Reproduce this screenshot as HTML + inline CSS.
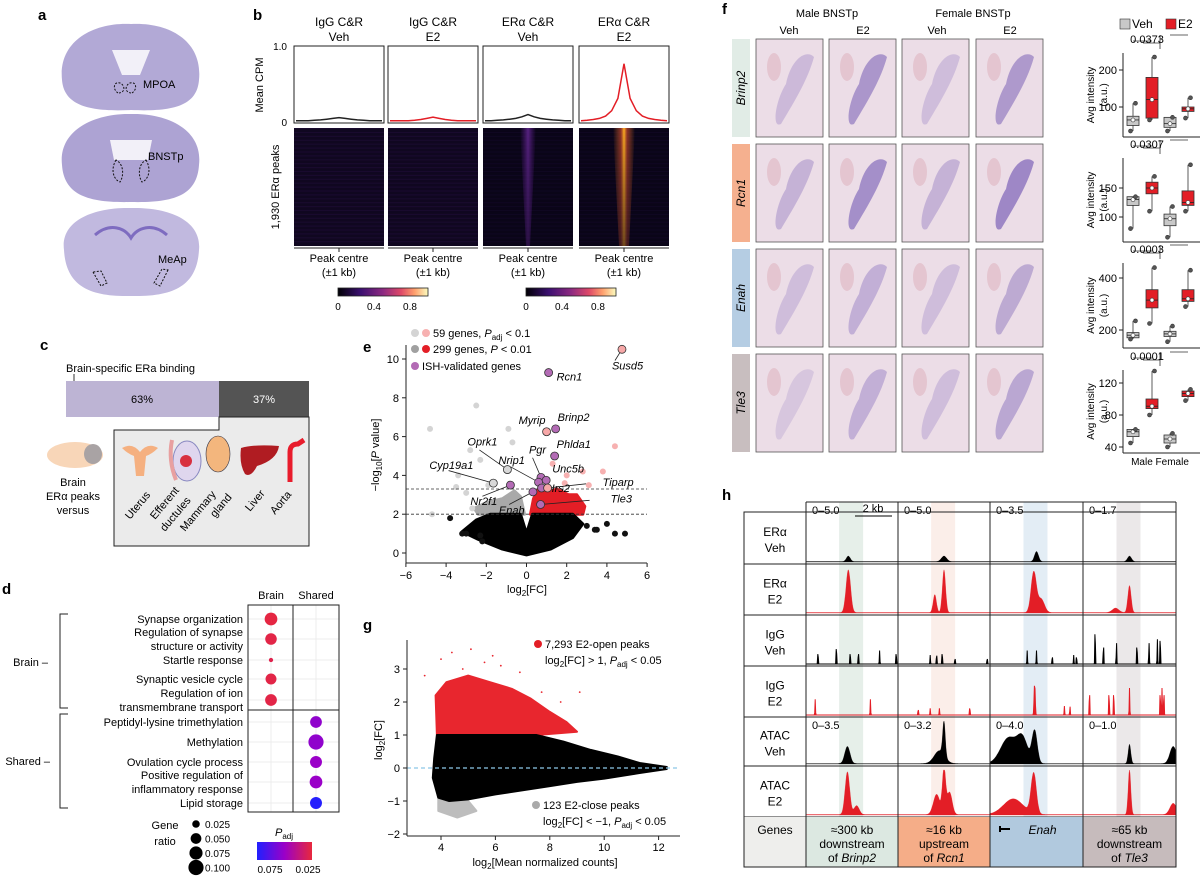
<!DOCTYPE html>
<html><head><meta charset="utf-8"><style>
html,body{margin:0;padding:0;background:#fff}
svg{display:block;font-family:"Liberation Sans",Arial,sans-serif}
</style></head><body>
<svg id="fig" width="1200" height="877" viewBox="0 0 1200 877" xmlns="http://www.w3.org/2000/svg">
<defs>
<linearGradient id="magma" x1="0" x2="1" y1="0" y2="0"><stop offset="0" stop-color="#000004"/><stop offset="0.25" stop-color="#3b0f70"/><stop offset="0.5" stop-color="#8c2981"/><stop offset="0.7" stop-color="#de4968"/><stop offset="0.85" stop-color="#fe9f6d"/><stop offset="1" stop-color="#fcfdbf"/></linearGradient>
<linearGradient id="padj" x1="0" x2="1"><stop offset="0" stop-color="#2020ff"/><stop offset="0.5" stop-color="#9a00c8"/><stop offset="1" stop-color="#e8283c"/></linearGradient>
<linearGradient id="stripeE2" x1="0" x2="1"><stop offset="0" stop-color="#f08020" stop-opacity="0"/><stop offset="0.35" stop-color="#e05030" stop-opacity="0.6"/><stop offset="0.5" stop-color="#ffb020"/><stop offset="0.65" stop-color="#e05030" stop-opacity="0.6"/><stop offset="1" stop-color="#f08020" stop-opacity="0"/></linearGradient>
<linearGradient id="stripeV" x1="0" x2="1"><stop offset="0" stop-color="#5a1a8a" stop-opacity="0"/><stop offset="0.5" stop-color="#6a2a9a" stop-opacity="0.8"/><stop offset="1" stop-color="#5a1a8a" stop-opacity="0"/></linearGradient>
<linearGradient id="fadeDown" x1="0" x2="0" y1="0" y2="1"><stop offset="0" stop-color="#fff" stop-opacity="1"/><stop offset="1" stop-color="#fff" stop-opacity="0.45"/></linearGradient>
<mask id="fadeMask"><rect x="0" y="128" width="1200" height="118" fill="url(#fadeDown)"/></mask>
</defs>

<!-- panel a -->
<g>
<text x="38" y="20" font-size="15" font-weight="bold">a</text>
<g>
<path d="M62,80 C58,40 95,22 131,24 C168,22 203,40 199,80 C197,105 175,112 131,110 C88,112 64,105 62,80Z" fill="#b2a9d6"/>
<path d="M112,50 L150,50 L140,75 L122,75Z" fill="#f2f0f8"/>
<path d="M118,93 c-6,-4 -4,-12 2,-10 c5,2 6,10 -2,10Z M132,93 c6,-4 4,-12 -2,-10 c-5,2 -6,10 2,10Z" fill="none" stroke="#111" stroke-dasharray="2,1.5"/>
<text x="143" y="88" font-size="11">MPOA</text></g>
<g>
<path d="M62,165 C58,130 95,113 131,114 C168,113 203,130 199,165 C197,195 175,203 131,202 C88,203 64,195 62,165Z" fill="#ada3d3"/>
<path d="M110,140 L152,140 L148,160 L114,160Z" fill="#f2f0f8"/>
<path d="M116,160 c-6,10 -2,20 4,22 c4,-6 4,-18 -4,-22Z M146,160 c6,10 2,20 -4,22 c-4,-6 -4,-18 4,-22Z" fill="none" stroke="#111" stroke-dasharray="2,1.5"/>
<text x="148" y="160" font-size="11">BNSTp</text></g>
<g>
<path d="M64,250 C60,220 95,207 131,208 C168,207 202,220 199,250 C197,285 175,297 131,296 C88,297 66,285 64,250Z" fill="#c1b9df"/>
<path d="M95,235 C110,222 125,228 131,238 C137,228 152,222 167,235" fill="none" stroke="#7e6cc0" stroke-width="3"/>
<path d="M93,272 l8,14 l6,-3 l-6,-12Z M168,270 l-8,16 l-6,-3 l8,-14Z" fill="none" stroke="#111" stroke-dasharray="2,1.5"/>
<text x="158" y="263" font-size="11">MeAp</text></g>
</g>

<!-- panel b -->
<g id="panelB">
<text x="253" y="20" font-size="15" font-weight="bold">b</text>
<text transform="translate(263,85) rotate(-90)" text-anchor="middle" font-size="11">Mean CPM</text>
<text x="287" y="50" text-anchor="end" font-size="10">1.0</text>
<text x="287" y="126" text-anchor="end" font-size="10">0</text>
<text transform="translate(279,187) rotate(-90)" text-anchor="middle" font-size="11">1,930 ERα peaks</text>
</g>

<!-- panel c -->
<g>
<text x="40" y="350" font-size="15" font-weight="bold">c</text>
<text x="66" y="372" font-size="11">Brain-specific ERa binding</text>
<line x1="74" y1="374" x2="74" y2="381" stroke="#000" stroke-width="0.8"/>
<rect x="66" y="381" width="153" height="36" fill="#bdb4d4"/>
<rect x="219" y="381" width="90" height="36" fill="#545454"/>
<text x="142" y="403" text-anchor="middle" font-size="11">63%</text>
<text x="264" y="403" text-anchor="middle" font-size="11" fill="#fff">37%</text>
<path d="M114,430 L219,430 L219,417 L309,417 L309,546 L114,546Z" fill="#ebebeb" stroke="#222"/>
<g><ellipse cx="75" cy="455" rx="28" ry="13" fill="#f8d6b8"/><ellipse cx="93" cy="454" rx="9" ry="10" fill="#a9a3a4"/></g>
<text x="73" y="486" text-anchor="middle" font-size="11">Brain</text>
<text x="73" y="500" text-anchor="middle" font-size="11">ERα peaks</text>
<text x="73" y="514" text-anchor="middle" font-size="11">versus</text>
<g><path d="M122,448 q10,-6 18,4 q8,-10 18,-4 q-6,6 -12,8 l-2,20 h-8 l-2,-20 q-6,-2 -12,-8Z" fill="#f5b080"/></g>
<g><ellipse cx="187" cy="461" rx="14" ry="20" fill="#dfd6ee" stroke="#8888c0"/><circle cx="186" cy="461" r="6" fill="#d83040"/><path d="M172,440 q-4,20 4,40" stroke="#e8a0a0" stroke-width="4" fill="none"/></g>
<g><ellipse cx="218" cy="454" rx="12" ry="18" fill="#f3b67d" stroke="#334" stroke-width="0.6"/></g>
<g><path d="M241,448 q14,-4 38,-2 q-2,14 -22,20 q-6,12 -12,8 q-6,-10 -4,-26Z" fill="#b01c22"/></g>
<g><path d="M290,482 l0,-30 q0,-8 8,-8 l6,-4" stroke="#e81c2c" stroke-width="5" fill="none"/></g>
<g font-size="11">
<text transform="translate(130,520) rotate(-50)">Uterus</text>
<text transform="translate(155,520) rotate(-50)">Efferent</text>
<text transform="translate(165,532) rotate(-50)">ductules</text>
<text transform="translate(185,532) rotate(-50)">Mammary</text>
<text transform="translate(215,518) rotate(-50)">gland</text>
<text transform="translate(250,512) rotate(-50)">Liver</text>
<text transform="translate(275,515) rotate(-50)">Aorta</text>
</g>
</g>

<!-- panel d -->
<g id="panelD">
<text x="2" y="594" font-size="15" font-weight="bold">d</text>
<text x="271" y="599" text-anchor="middle" font-size="11">Brain</text>
<text x="316" y="599" text-anchor="middle" font-size="11">Shared</text>
<path d="M68,614 h-8 v94 h8" fill="none" stroke="#222"/>
<path d="M68,714 h-8 v94 h8" fill="none" stroke="#222"/>
<text x="48" y="666" text-anchor="end" font-size="11">Brain –</text>
<text x="50" y="765" text-anchor="end" font-size="11">Shared –</text>
<text x="165" y="829" text-anchor="middle" font-size="11">Gene</text>
<text x="165" y="845" text-anchor="middle" font-size="11">ratio</text>
<text x="284" y="836" text-anchor="middle" font-size="11" font-style="italic">P<tspan font-size="8" font-style="normal" dy="3">adj</tspan></text>
<rect x="257" y="842" width="55" height="18" fill="url(#padj)"/>
<text x="270" y="873" text-anchor="middle" font-size="10">0.075</text>
<text x="308" y="873" text-anchor="middle" font-size="10">0.025</text>
</g>

<!-- panel e -->
<g id="panelE">
<text x="363" y="352" font-size="15" font-weight="bold">e</text>
</g>

<!-- panel g -->
<g id="panelG">
<text x="363" y="630" font-size="15" font-weight="bold">g</text>
</g>

<!-- panel f -->
<g id="panelF">
<text x="722" y="14" font-size="15" font-weight="bold">f</text>
<text x="827" y="17" text-anchor="middle" font-size="11">Male BNSTp</text>
<text x="973" y="17" text-anchor="middle" font-size="11">Female BNSTp</text>
<text x="789" y="34" text-anchor="middle" font-size="11">Veh</text>
<text x="863" y="34" text-anchor="middle" font-size="11">E2</text>
<text x="937" y="34" text-anchor="middle" font-size="11">Veh</text>
<text x="1010" y="34" text-anchor="middle" font-size="11">E2</text>
<rect x="1120" y="19" width="10" height="10" fill="#c8c8c8" stroke="#333" stroke-width="0.6"/>
<text x="1132" y="28" font-size="12">Veh</text>
<rect x="1166" y="19" width="10" height="10" fill="#e31e26" stroke="#333" stroke-width="0.6"/>
<text x="1178" y="28" font-size="12">E2</text>
<text x="1160" y="465" text-anchor="middle" font-size="10">Male Female</text>
</g>

<!-- panel h -->
<g id="panelH">
<text x="722" y="500" font-size="15" font-weight="bold">h</text>
</g>
</svg>
<script>
var NS='http://www.w3.org/2000/svg';
function el(tag,attrs,parent){var e=document.createElementNS(NS,tag);for(var k in attrs)e.setAttribute(k,attrs[k]);(parent||document.getElementById('fig')).appendChild(e);return e;}
function txt(s,attrs,parent){var t=el('text',attrs,parent);t.textContent=s;return t;}

/* ===== panel b data ===== */
var bTitles1=['IgG C&R','IgG C&R','ERα C&R','ERα C&R'];
var bTitles2=['Veh','E2','Veh','E2'];
var profIgGVeh=[0.03,0.03,0.03,0.035,0.04,0.05,0.06,0.07,0.06,0.05,0.04,0.035,0.03,0.03,0.03];
var profIgGE2=[0.03,0.03,0.03,0.03,0.035,0.045,0.06,0.075,0.06,0.045,0.035,0.03,0.03,0.03,0.03];
var profERVeh=[0.03,0.03,0.035,0.04,0.05,0.06,0.08,0.11,0.08,0.06,0.05,0.04,0.035,0.03,0.03];
var profERE2=[0.03,0.035,0.045,0.06,0.09,0.16,0.32,0.77,0.32,0.16,0.09,0.06,0.045,0.035,0.03];
var bProfiles=[profIgGVeh,profIgGE2,profERVeh,profERE2];
var bColors=['#222','#e31e26','#222','#e31e26'];
var cbTicks=['0','0.4','0.8'];
(function(){
 var g=document.getElementById('panelB');
 var xs=[294,388,483,579], w=90;
 for(var i=0;i<4;i++){
  var x0=xs[i], cx=x0+w/2;
  var t=txt(bTitles1[i],{x:cx,y:26,'text-anchor':'middle','font-size':12},g);
  
  
  var t2=txt(bTitles2[i],{x:cx,y:41,'text-anchor':'middle','font-size':12},g);
  
  
  var box=el('rect',{x:x0,y:46,width:w,height:77,fill:'#fff',stroke:'#222','stroke-width':1},g);
  
  
  var p=bProfiles[i], d='';
  for(var j=0;j<p.length;j++){var px=x0+2+j*(w-4)/(p.length-1), py=123-p[j]*77; d+=(j?'L':'M')+px.toFixed(1)+','+py.toFixed(1);}
  var ln=el('path',{d:d,fill:'none',stroke:bColors[i],'stroke-width':1.5},g);
  
  
  var hm=el('rect',{x:x0,y:128,width:w,height:118,fill:i<2?'#100720':'#0a0518'},g);
  
  
  for(var r=0;r<30;r++){el('rect',{x:x0,y:128+r*3.9,width:w,height:1.2,fill:'#3a1660',opacity:i<2?0.22:0.12},g);}
  var peak=p[7];
  if(peak>0.09){
   var sw=peak>0.5?16:10;
   var st=el('polygon',{points:(cx-sw/2-3)+',128 '+(cx+sw/2+3)+',128 '+(cx+sw/2-3)+',246 '+(cx-sw/2+3)+',246',fill:peak>0.5?'url(#stripeE2)':'url(#stripeV)',mask:'url(#fadeMask)'},g);
   
   
  }
  el('line',{x1:x0,y1:248,x2:x0+w,y2:248,stroke:'#222'},g);
  el('line',{x1:cx,y1:248,x2:cx,y2:252,stroke:'#222'},g);
  var pc=txt('Peak centre',{x:cx,y:262,'text-anchor':'middle','font-size':11},g);
  
  
  var pk=txt('(±1 kb)',{x:cx,y:276,'text-anchor':'middle','font-size':11},g);
  
  
 }
 var cbx=[338,526];
 for(var c=0;c<2;c++){
  var cb=el('rect',{x:cbx[c],y:288,width:90,height:8,fill:'url(#magma)',stroke:'#222','stroke-width':0.8},g);
  
  
  for(var k=0;k<cbTicks.length;k++){
   var tx=cbx[c]+parseFloat(cbTicks[k])*90;
   var tt=txt(cbTicks[k],{x:tx,y:310,'text-anchor':'middle','font-size':10},g);
   
   
  }
 }
})();

/* ===== panel d data ===== */
var dTerms=[['Synapse organization'],['Regulation of synapse','structure or activity'],['Startle response'],['Synaptic vesicle cycle'],['Regulation of ion','transmembrane transport'],['Peptidyl-lysine trimethylation'],['Methylation'],['Ovulation cycle process'],['Positive regulation of','inflammatory response'],['Lipid storage']];
var dGroup=[0,0,0,0,0,1,1,1,1,1];
var dRatio=[0.07,0.058,0.008,0.052,0.06,0.06,0.1,0.062,0.07,0.062];
var dPadj=[0.026,0.027,0.028,0.027,0.027,0.052,0.052,0.05,0.05,0.074];
var legendRatios=[0.025,0.05,0.075,0.1];
(function(){
 var g=document.getElementById('panelD');
 var rowsY=[619,639,660,679,700,722,742,762,782,803];
 var colX=[271,316];
 var rScale=function(v){return Math.sqrt(v)*24;};
 var colorP=function(p){var t=(0.075-p)/0.05;t=Math.max(0,Math.min(1,t));
  var a=[32,32,255],b=[154,0,200],c=[232,40,60],u,v,s;
  if(t<0.5){u=a;v=b;s=t*2;}else{u=b;v=c;s=(t-0.5)*2;}
  return 'rgb('+Math.round(u[0]+(v[0]-u[0])*s)+','+Math.round(u[1]+(v[1]-u[1])*s)+','+Math.round(u[2]+(v[2]-u[2])*s)+')';};
 for(var i=0;i<rowsY.length;i++){el('line',{x1:248,y1:rowsY[i],x2:339,y2:rowsY[i],stroke:'#ececec'},g);}
 el('line',{x1:271,y1:605,x2:271,y2:812,stroke:'#ececec'},g);
 el('line',{x1:316,y1:605,x2:316,y2:812,stroke:'#ececec'},g);
 var fr=el('rect',{x:248,y:605,width:91,height:207,fill:'none',stroke:'#222'},g);
 
 
 el('line',{x1:293,y1:605,x2:293,y2:812,stroke:'#222'},g);
 el('line',{x1:248,y1:710,x2:339,y2:710,stroke:'#222'},g);
 for(var i=0;i<dTerms.length;i++){
  var lines=dTerms[i];
  for(var l=0;l<lines.length;l++){
   var yy=rowsY[i]+4+(lines.length==2?(l==0?-7:7):0);
   var t=txt(lines[l],{x:243,y:yy,'text-anchor':'end','font-size':11},g);
   
   
  }
  var c=el('circle',{cx:colX[dGroup[i]],cy:rowsY[i],r:rScale(dRatio[i]),fill:colorP(dPadj[i])},g);
  
  
 }
 for(var k=0;k<legendRatios.length;k++){
  var ly=824+k*14.5;
  var lc=el('circle',{cx:196,cy:ly,r:rScale(legendRatios[k]),fill:'#000'},g);
  
  
  var lt=txt(legendRatios[k].toFixed(3),{x:205,y:ly+4,'font-size':10},g);
  
  
 }
})();

/* ===== panel e data (volcano) ===== */
var eTicksX=[-6,-4,-2,0,2,4,6];
var eTicksY=[0,2,4,6,8,10];
var eGenes=['Susd5','Rcn1','Brinp2','Myrip','Phlda1','Oprk1','Cyp19a1','Nr2f1','Pgr','Nrip1','Unc5b','Irs2','Tiparp','Enah','Tle3'];
var eGeneFC=[4.75,1.1,1.45,1.0,1.4,-0.95,-1.65,-0.8,0.72,0.6,0.98,0.75,1.05,0.32,0.7];
var eGeneP=[10.5,9.3,6.4,6.25,5.0,4.3,3.6,3.5,3.9,3.65,3.75,3.35,3.35,3.15,2.5];
var eGeneType=['pink','ish','ish','pink','ish','grey','grey','ish','ish','ish','ish','ish','pink','ish','ish'];
var eGreyFC=[-2.5,-4.8,-0.9,-0.7,-2.8,-2.3,-3.4,-4.7,-3.5,-1.9,-2.7,-3.0];
var eGreyP=[7.6,6.4,6.4,5.7,5.3,4.8,4.0,2.0,3.4,3.5,2.3,3.1];
var ePinkFC=[4.4,3.8,2.8,3.1,1.3,2.0,1.9];
var ePinkP=[5.5,4.2,4.2,3.5,4.6,4.0,3.6];
var eBlackFC=[-3.8,-3.2,-3.0,-2.3,-2.2,3.0,3.4,3.5,4.0,4.4,4.9];
var eBlackP=[1.8,1.0,1.0,0.9,0.6,1.4,1.2,1.2,1.5,1.0,1.0];
var eBlackCloudFC=[-3.2,-2.5,-1.8,-1.0,-0.3,0,0.3,2.3,2.8,2.3,1.2,0,-1.2,-2.4];
var eBlackCloudP=[1.1,1.7,2.0,2.0,2.0,1.0,2.0,2.0,1.5,0.8,0.2,-0.1,0.2,0.7];
var eRedCloudFC=[0.2,0.35,0.6,1.0,1.5,2.1,2.5,2.9,2.8];
var eRedCloudP=[2.0,2.8,3.3,3.1,3.3,3.0,3.0,2.4,2.0];
var eGreyCloudFC=[-0.1,-0.3,-0.6,-1.2,-2.0,-2.6,-2.4];
var eGreyCloudP=[2.0,2.9,3.2,2.8,2.6,2.3,2.0];
(function(){
 var g=document.getElementById('panelE');
 var X=function(v){return 526.5+v*20.1;}, Y=function(v){return 553-v*19.4;};
 function poly(fx,fy,fill,name){var pts=[];for(var i=0;i<fx.length;i++)pts.push(X(fx[i]).toFixed(1)+','+Y(fy[i]).toFixed(1));var p=el('polygon',{points:pts.join(' '),fill:fill,stroke:fill,'stroke-width':3,'stroke-linejoin':'round'},g);}
 poly(eGreyCloudFC,eGreyCloudP,'#a9a9a9','volcano-grey-cloud');
 poly(eRedCloudFC,eRedCloudP,'#e31e26','volcano-red-cloud');
 poly(eBlackCloudFC,eBlackCloudP,'#000','volcano-black-cloud');
 function pts(fx,fy,fill,r,name){for(var i=0;i<fx.length;i++){var c=el('circle',{cx:X(fx[i]),cy:Y(fy[i]),r:r,fill:fill},g);}}
 pts(eGreyFC,eGreyP,'#d4d4d4',3,'volcano-grey-point');
 pts(ePinkFC,ePinkP,'#f7b1b1',3,'volcano-pink-point');
 pts(eBlackFC,eBlackP,'#111',3,'volcano-black-point');
 el('line',{x1:406,y1:Y(2),x2:647,y2:Y(2),stroke:'#333','stroke-dasharray':'3,2','stroke-width':0.8},g);
 el('line',{x1:406,y1:Y(3.3),x2:647,y2:Y(3.3),stroke:'#333','stroke-dasharray':'3,2','stroke-width':0.8},g);
 var fillMap={pink:'#f7a8a8',ish:'#b36bb5',grey:'#d8d8d8'};
 var lab={Susd5:[-10,16],Rcn1:[8,4],Brinp2:[2,-12],Myrip:[-28,-12],Phlda1:[2,-12],Oprk1:[-40,-28],Cyp19a1:[-64,-18],Nr2f1:[-40,16],Pgr:[-12,-28],Nrip1:[-40,-22],Unc5b:[6,-12],Irs2:[10,0],Tiparp:[55,-6],Enah:[-34,18],Tle3:[70,-6]};
 for(var i=0;i<eGenes.length;i++){
  var cx=X(eGeneFC[i]),cy=Y(eGeneP[i]),o=lab[eGenes[i]];
  if(Math.abs(o[1])>14||Math.abs(o[0])>30){el('line',{x1:cx,y1:cy,x2:cx+o[0]*0.7,y2:cy+o[1]*0.7,stroke:'#222','stroke-width':0.8},g);}
  var c=el('circle',{cx:cx,cy:cy,r:4,fill:fillMap[eGeneType[i]],stroke:'#333','stroke-width':0.8},g);
  
  
  var t=txt(eGenes[i],{x:cx+o[0],y:cy+o[1]+4,'font-size':11,'font-style':'italic'},g);
  
  
 }
 el('line',{x1:406,y1:345,x2:406,y2:563,stroke:'#222'},g);
 el('line',{x1:406,y1:563,x2:647,y2:563,stroke:'#222'},g);
 for(var k=0;k<eTicksX.length;k++){el('line',{x1:X(eTicksX[k]),y1:563,x2:X(eTicksX[k]),y2:567,stroke:'#222'},g);
  var t=txt(String(eTicksX[k]).replace('-','−'),{x:X(eTicksX[k]),y:579,'text-anchor':'middle','font-size':11},g);}
 for(var k=0;k<eTicksY.length;k++){el('line',{x1:402,y1:Y(eTicksY[k]),x2:406,y2:Y(eTicksY[k]),stroke:'#222'},g);
  var t=txt(String(eTicksY[k]),{x:399,y:Y(eTicksY[k])+4,'text-anchor':'end','font-size':11},g);}
 var xt=txt('',{x:527,y:593,'text-anchor':'middle','font-size':11},g);xt.innerHTML='log<tspan font-size="8" dy="3">2</tspan><tspan dy="-3">[FC]</tspan>';
 
 var yt=txt('',{transform:'translate(379,455) rotate(-90)','text-anchor':'middle','font-size':11},g);yt.innerHTML='−log<tspan font-size="8" dy="3">10</tspan><tspan dy="-3">[</tspan><tspan font-style="italic">P</tspan> value]';
 
 var leg=[[['#d4d4d4','#f7b1b1'],'59 genes, <tspan font-style="italic">P</tspan><tspan font-size="8" dy="3">adj</tspan><tspan dy="-3"> &lt; 0.1</tspan>',333],[['#a0a0a0','#e31e26'],'299 genes, <tspan font-style="italic">P</tspan> &lt; 0.01',349],[['#b36bb5'],'ISH-validated genes',366]];
 for(var k=0;k<leg.length;k++){for(var q=0;q<leg[k][0].length;q++){var c=el('circle',{cx:415+q*11,cy:leg[k][2],r:4,fill:leg[k][0][q]},g);}
  var t=txt('',{x:k==2?422:433,y:leg[k][2]+4,'font-size':11},g);t.innerHTML=leg[k][1];}
})();

/* ===== panel g data (MA plot) ===== */
var gTicksX=[4,6,8,10,12];
var gTicksY=[-2,-1,0,1,2,3];
var gBlackCountX=[3.75,3.85,7.5,8.5,9.5,10.5,11.3,12.3,12.3,11.3,10,9,8,6,5,4.3,3.9,3.7];
var gBlackFC=[0.3,1.0,1.0,0.8,0.55,0.35,0.15,0.03,-0.03,-0.15,-0.32,-0.42,-0.55,-0.8,-0.95,-1.0,-0.9,-0.3];
var gRedCountX=[3.85,3.8,4.2,5.0,5.8,6.6,7.3,8.0,8.6,9.0,7.5];
var gRedFC=[1.0,2.2,2.6,2.8,2.6,2.4,2.1,1.7,1.4,1.1,1.0];
var gGreyCountX=[3.9,4.3,5.0,5.3,4.6,3.9];
var gGreyFC=[-0.9,-1.0,-1.0,-1.3,-1.5,-1.3];
var gRedDotX=[4.0,4.4,5.1,5.6,6.2,6.9,3.4,7.7,8.4,9.1,4.8,5.9];
var gRedDotY=[3.3,3.5,3.6,3.2,3.1,2.9,2.8,2.3,2.0,2.3,3.0,3.4];
(function(){
 var g=document.getElementById('panelG');
 var X=function(v){return 441+(v-4)*27.2;}, Y=function(v){return 768-v*33;};
 function poly(fx,fy,fill,name){var pts=[];for(var i=0;i<fx.length;i++)pts.push(X(fx[i]).toFixed(1)+','+Y(fy[i]).toFixed(1));var p=el('polygon',{points:pts.join(' '),fill:fill,stroke:fill,'stroke-width':2,'stroke-linejoin':'round'},g);}
 poly(gRedCountX,gRedFC,'#e8262e','ma-red-cloud');
 poly(gGreyCountX,gGreyFC,'#bdbdbd','ma-grey-cloud');
 poly(gBlackCountX,gBlackFC,'#000','ma-black-cloud');
 for(var i=0;i<gRedDotX.length;i++){var c=el('circle',{cx:X(gRedDotX[i]),cy:Y(gRedDotY[i]),r:0.9,fill:'#e8262e'},g);}
 var zl=el('line',{x1:407,y1:Y(0),x2:680,y2:Y(0),stroke:'#8cc8e8','stroke-dasharray':'4,3','stroke-width':1.2},g);
 
 el('line',{x1:407,y1:640,x2:407,y2:836,stroke:'#222'},g);
 el('line',{x1:407,y1:836,x2:680,y2:836,stroke:'#222'},g);
 for(var k=0;k<gTicksX.length;k++){el('line',{x1:X(gTicksX[k]),y1:836,x2:X(gTicksX[k]),y2:840,stroke:'#222'},g);
  var t=txt(String(gTicksX[k]),{x:X(gTicksX[k]),y:851,'text-anchor':'middle','font-size':11},g);}
 for(var k=0;k<gTicksY.length;k++){el('line',{x1:403,y1:Y(gTicksY[k]),x2:407,y2:Y(gTicksY[k]),stroke:'#222'},g);
  var t=txt(String(gTicksY[k]).replace('-','−'),{x:400,y:Y(gTicksY[k])+4,'text-anchor':'end','font-size':11},g);}
 var xt=txt('',{x:545,y:866,'text-anchor':'middle','font-size':11},g);xt.innerHTML='log<tspan font-size="8" dy="3">2</tspan><tspan dy="-3">[Mean normalized counts]</tspan>';
 
 var yt=txt('',{transform:'translate(382,740) rotate(-90)','text-anchor':'middle','font-size':11},g);yt.innerHTML='log<tspan font-size="8" dy="3">2</tspan><tspan dy="-3">[FC]</tspan>';
 
 var c1=el('circle',{cx:538,cy:644,r:4,fill:'#e31e26'},g);
 var t1=txt('7,293 E2-open peaks',{x:545,y:648,'font-size':11},g);
 var t2=txt('',{x:545,y:664,'font-size':11},g);t2.innerHTML='log<tspan font-size="8" dy="3">2</tspan><tspan dy="-3">[FC] &gt; 1, </tspan><tspan font-style="italic">P</tspan><tspan font-size="8" dy="3">adj</tspan><tspan dy="-3"> &lt; 0.05</tspan>';
 
 var c2=el('circle',{cx:536,cy:805,r:4,fill:'#aaa'},g);
 var t3=txt('123 E2-close peaks',{x:543,y:809,'font-size':11},g);
 var t4=txt('',{x:543,y:825,'font-size':11},g);t4.innerHTML='log<tspan font-size="8" dy="3">2</tspan><tspan dy="-3">[FC] &lt; −1, </tspan><tspan font-style="italic">P</tspan><tspan font-size="8" dy="3">adj</tspan><tspan dy="-3"> &lt; 0.05</tspan>';
 
})();

/* ===== panel f data ===== */
var fGenes=['Brinp2','Rcn1','Enah','Tle3'];
var fStripColors=['#e1ece6','#f5b08f','#b5cde3','#c8bebf'];
var fIntensity=[[0.25,0.5,0.22,0.48],[0.3,0.55,0.3,0.6],[0.22,0.32,0.22,0.36],[0.16,0.32,0.22,0.38]];
var fTicks=[[100,200],[100,150],[200,400],[40,80,120]];
var fYRef=[[107,70],[217,188],[330,278],[447,415,383]];
var fSig=['0.0373','0.0307','0.0003','0.0001'];
var fQ1=[[50,70,45,88],[120,140,85,120],[170,285,175,310],[53,88,45,103]];
var fMed=[[65,120,55,95],[130,150,97,125],[180,315,185,320],[59,91,50,107]];
var fQ3=[[75,180,72,100],[135,160,105,145],[190,355,195,355],[62,100,55,110]];
var fLo=[[35,65,35,70],[80,110,65,110],[165,225,155,290],[45,80,40,98]];
var fHi=[[110,235,72,125],[135,170,118,190],[235,440,215,430],[62,135,57,112]];
(function(){
 var g=document.getElementById('panelF');
 var cols=[756,829,902,976], rows=[39,144,249,354], iw=67, ih=98;
 var plotTop=[53,158,263,370], plotBot=[137,242,348,453];
 var bx=[1133,1152,1170,1188];
 for(var r=0;r<4;r++){
  var s=el('rect',{x:732,y:rows[r],width:18,height:ih,fill:fStripColors[r]},g);
  
  var t=txt(fGenes[r],{transform:'translate(745,'+(rows[r]+ih/2)+') rotate(-90)','text-anchor':'middle','font-size':12,'font-style':'italic'},g);
  
  for(var c=0;c<4;c++){
   var x=cols[c],y=rows[r];
   var im=el('rect',{x:x,y:y,width:iw,height:ih,fill:'#ecdde7',stroke:'#555','stroke-width':0.8},g);
   
   el('ellipse',{cx:x+18,cy:y+28,rx:7,ry:14,fill:'#e2bfca',opacity:0.8},g);
   el('path',{d:'M'+(x+30)+','+(y+45)+' C'+(x+35)+','+(y+20)+' '+(x+50)+','+(y+10)+' '+(x+58)+','+(y+18)+' C'+(x+52)+','+(y+40)+' '+(x+40)+','+(y+60)+' '+(x+25)+','+(y+85)+' C'+(x+15)+','+(y+90)+' '+(x+20)+','+(y+60)+' '+(x+30)+','+(y+45)+'Z',fill:'#6a4fb0',opacity:fIntensity[r][c]},g);
  }
  var ref=fYRef[r],tk=fTicks[r];
  var pxPer=(ref[0]-ref[1])/(tk[1]-tk[0]);
  var Y=(function(ref0,tk0,pp){return function(v){return ref0-(v-tk0)*pp;};})(ref[0],tk[0],pxPer);
  el('line',{x1:1123,y1:plotTop[r],x2:1123,y2:plotBot[r],stroke:'#222'},g);
  el('line',{x1:1123,y1:plotBot[r],x2:1200,y2:plotBot[r],stroke:'#222'},g);
  for(var k=0;k<tk.length;k++){var yy=Y(tk[k]);if(yy<plotTop[r]-2||yy>plotBot[r]+4)continue;
   el('line',{x1:1119,y1:yy,x2:1123,y2:yy,stroke:'#222'},g);
   var tt=txt(String(tk[k]),{x:1117,y:yy+4,'text-anchor':'end','font-size':11},g);}
  var ya=txt('Avg intensity',{transform:'translate(1094,'+((plotTop[r]+plotBot[r])/2)+') rotate(-90)','text-anchor':'middle','font-size':10},g);
  
  var yb=txt('(a.u.)',{transform:'translate(1107,'+((plotTop[r]+plotBot[r])/2)+') rotate(-90)','text-anchor':'middle','font-size':10},g);
  
  for(var c=0;c<4;c++){
   var fill=(c%2)?'#e31e26':'#c8c8c8';
   el('line',{x1:bx[c],y1:Y(fLo[r][c]),x2:bx[c],y2:Y(fHi[r][c]),stroke:'#333','stroke-width':0.8},g);
   var b=el('rect',{x:bx[c]-6,y:Y(fQ3[r][c]),width:12,height:Math.max(1,Y(fQ1[r][c])-Y(fQ3[r][c])),fill:fill,stroke:'#333','stroke-width':0.8},g);
   
   el('line',{x1:bx[c]-6,y1:Y(fMed[r][c]),x2:bx[c]+6,y2:Y(fMed[r][c]),stroke:'#222','stroke-width':0.8},g);
   var vals=[fLo[r][c],fMed[r][c],fHi[r][c]];
   for(var v=0;v<3;v++){var pt=el('circle',{cx:bx[c]+(v-1)*2.5,cy:Y(vals[v]),r:2,fill:v==1?'#fff':'#555',stroke:'#333','stroke-width':0.6},g);}
  }
  var st=plotTop[r]-12;
  el('path',{d:'M1133,'+st+' H1152 M1170,'+(st-6)+' H1188 M1160,'+(st-6)+' V'+(st+8),fill:'none',stroke:'#333','stroke-width':0.8},g);
  el('line',{x1:1143,y1:st+2,x2:1160,y2:st+2,stroke:'#333','stroke-width':0.8},g);
  var sg=txt(fSig[r],{x:1147,y:st+2,'text-anchor':'middle','font-size':11},g);
  
 }
})();

/* ===== panel h data ===== */
var hRowLabels=[['ERα','Veh'],['ERα','E2'],['IgG','Veh'],['IgG','E2'],['ATAC','Veh'],['ATAC','E2']];
var hColors=['#000','#e31e26','#000','#e31e26','#000','#e31e26'];
var hScaleTop=['0–5.0','0–5.0','0–3.5','0–1.7'];
var hScaleAtac=['0–3.5','0–3.2','0–4.0','0–1.0'];
var hPeaks=[
 [[[0.46,0.12,0.03]],[[0.5,0.12,0.04]],[[0.5,0.22,0.03]],[[0.5,0.12,0.03]]],
 [[[0.46,0.95,0.035]],[[0.5,0.95,0.025],[0.4,0.4,0.025]],[[0.47,0.9,0.04],[0.55,0.3,0.05]],[[0.5,0.6,0.025],[0.35,0.1,0.05]]],
 [[[0.13,0.3,0.004],[0.33,0.45,0.004],[0.48,0.3,0.004],[0.57,0.3,0.004],[0.8,0.3,0.004],[0.98,0.3,0.004]],[[0.35,0.2,0.004],[0.42,0.25,0.004],[0.48,0.3,0.004],[0.62,0.15,0.004],[0.97,0.15,0.004]],[[0.4,0.3,0.004],[0.5,0.3,0.004],[0.67,0.2,0.004],[0.9,0.2,0.004],[0.93,0.2,0.004]],[[0.13,0.9,0.004],[0.22,0.5,0.004],[0.36,0.5,0.004],[0.58,0.5,0.004],[0.71,0.5,0.004],[0.8,0.55,0.004],[0.83,0.7,0.004]]],
 [[[0.1,0.35,0.004],[0.7,0.35,0.004]],[[0.22,0.15,0.004],[0.35,0.15,0.004],[0.45,0.15,0.004],[0.78,0.2,0.004]],[[0.48,0.7,0.008],[0.8,0.2,0.004],[0.86,0.2,0.004]],[[0.07,0.6,0.004],[0.28,0.6,0.004],[0.33,0.6,0.004],[0.5,0.6,0.004],[0.83,0.6,0.004],[0.85,0.6,0.004],[0.87,0.6,0.004]]],
 [[[0.45,0.4,0.04]],[[0.5,0.8,0.02],[0.45,0.3,0.08]],[[0.2,0.6,0.12],[0.48,0.75,0.04],[0.35,0.55,0.08]],[[0.5,0.45,0.02],[0.97,0.4,0.05]]],
 [[[0.45,0.95,0.035],[0.55,0.2,0.04]],[[0.5,1.0,0.025],[0.42,0.45,0.05],[0.56,0.5,0.04]],[[0.47,0.9,0.04],[0.25,0.35,0.15]],[[0.5,1.0,0.02],[0.97,0.25,0.05]]]
];
var hGeneText=[['≈300 kb','downstream','of |Brinp2'],['≈16 kb','upstream','of |Rcn1'],['Enah'],['≈65 kb','downstream','of |Tle3']];
(function(){
 var g=document.getElementById('panelH');
 var cx=[806,898,990,1083,1176], ry=[512,564,615,666,717,766,817,867];
 var bands=['#e6efe9','#fbeee9','#e3edf5','#ebe8e9'];
 var geneBg=['#dce8e1','#f5ad88','#b1c9de','#c6bbbc'];
 for(var c=0;c<4;c++){
  var bw=24,bxx=cx[c]+(cx[c+1]-cx[c])*0.36;
  var b=el('rect',{x:bxx,y:502,width:bw,height:315,fill:bands[c]},g);
  
 }
 for(var r=0;r<6;r++){
  var top=ry[r],bot=ry[r+1],base=bot-2,H=bot-top-6;
  for(var c=0;c<4;c++){
   var pk=hPeaks[r][c],w=cx[c+1]-cx[c],d='M'+cx[c]+','+base;
   var N=180;
   for(var s=0;s<=N;s++){var u=s/N,v=0;for(var p=0;p<pk.length;p++){var z=(u-pk[p][0])/pk[p][2];v+=pk[p][1]*Math.exp(-z*z);}
    v=Math.min(1,v+(r==2||r==3?0:0.01));d+='L'+(cx[c]+u*w).toFixed(1)+','+(base-v*H).toFixed(1);}
   d+='L'+cx[c+1]+','+base+'Z';
   var tr=el('path',{d:d,fill:hColors[r],stroke:hColors[r],'stroke-width':r==2||r==3?1:0.3},g);
   
   
  }
  el('line',{x1:744,y1:bot,x2:1176,y2:bot,stroke:'#222'},g);
  var l1=txt(hRowLabels[r][0],{x:775,y:(top+bot)/2-2,'text-anchor':'middle','font-size':12},g);
  
  var l2=txt(hRowLabels[r][1],{x:775,y:(top+bot)/2+14,'text-anchor':'middle','font-size':12},g);
  
 }
 var gr=el('rect',{x:744,y:817,width:62,height:50,fill:'#eeeeec'},g);
 
 var gt=txt('Genes',{x:775,y:834,'text-anchor':'middle','font-size':12},g);
 
 for(var c=0;c<4;c++){
  var gb=el('rect',{x:cx[c],y:817,width:cx[c+1]-cx[c],height:50,fill:geneBg[c]},g);
  
  var lines=hGeneText[c],mid=(cx[c]+cx[c+1])/2;
  for(var l=0;l<lines.length;l++){
   var t=txt('',{x:lines.length==1?mid+6:mid,y:834+l*14,'text-anchor':'middle','font-size':12},g);
   var parts=lines[l].split('|');
   if(lines.length==1){t.innerHTML='<tspan font-style="italic">'+parts[0]+'</tspan>';}
   else if(parts.length==2){t.innerHTML=parts[0]+'<tspan font-style="italic">'+parts[1]+'</tspan>';}
   else t.textContent=parts[0];
   
  }
  var s1=txt(hScaleTop[c],{x:cx[c]+6,y:514,'font-size':11},g);
  var s2=txt(hScaleAtac[c],{x:cx[c]+6,y:729,'font-size':11},g);
 }
 el('path',{d:'M1000,829 h10 M1000,826 v6',stroke:'#000','stroke-width':2},g);
 for(var c=0;c<5;c++){el('line',{x1:cx[c],y1:502,x2:cx[c],y2:867,stroke:'#222'},g);}
 el('line',{x1:806,y1:502,x2:1176,y2:502,stroke:'#222'},g);
 el('rect',{x:744,y:512,width:432,height:355,fill:'none',stroke:'#222'},g);
 el('line',{x1:855,y1:516,x2:892,y2:516,stroke:'#000'},g);
 var kb=txt('2 kb',{x:873,y:512,'text-anchor':'middle','font-size':11},g);
 
})();
</script>
</body></html>
